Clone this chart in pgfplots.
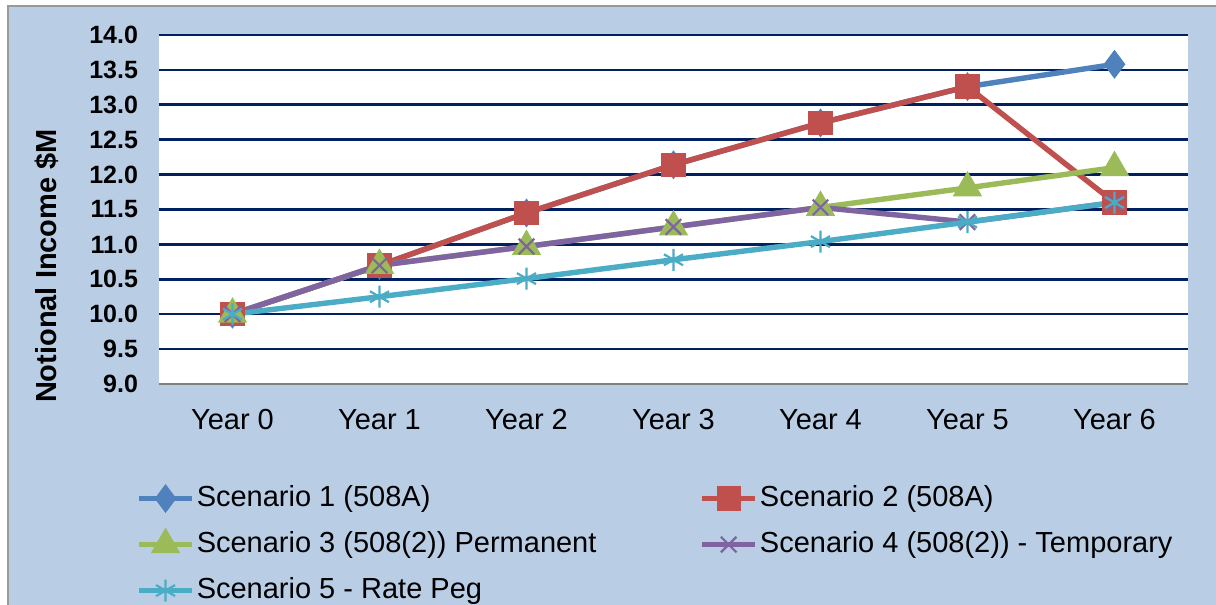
\documentclass[border=0pt]{standalone}
\usepackage{fontspec}
\setmainfont{Liberation Sans}
\usepackage{pgfplots}
\pgfplotsset{compat=1.18}

\definecolor{bgblue}{RGB}{185,205,229}
\definecolor{gridnavy}{RGB}{0,32,96}
\definecolor{sone}{RGB}{79,129,189}
\definecolor{stwo}{RGB}{192,80,77}
\definecolor{sthree}{RGB}{155,187,89}
\definecolor{sfour}{RGB}{128,100,162}
\definecolor{sfive}{RGB}{75,172,198}

\begin{document}
\begin{tikzpicture}
\useasboundingbox (0,0) rectangle (608pt,302.5pt);
% chart area
\fill[bgblue] (4pt,0) rectangle (608pt,299.5pt);
\draw[gray!80, line width=0.8pt] (4pt,0) -- (4pt,299.5pt) -- (608pt,299.5pt);

\begin{axis}[
    at={(79.5pt,110.5pt)}, anchor=south west,
    scale only axis,
    width=514.5pt, height=174.5pt,
    xmin=-0.5, xmax=6.5,
    ymin=9, ymax=14,
    xtick={0,1,2,3,4,5,6},
    xticklabels={Year 0,Year 1,Year 2,Year 3,Year 4,Year 5,Year 6},
    ytick={9,9.5,...,14},
    /pgf/number format/.cd, fixed, fixed zerofill, precision=1, assume math mode=true,
    /pgfplots/.cd,
    yticklabel style={font=\bfseries\fontsize{12.5}{14}\selectfont, xshift=-7pt},
    xticklabel style={font=\fontsize{14.5}{16}\selectfont, yshift=-9pt},
    ylabel={Notional Income \$M},
    ylabel style={font=\bfseries\fontsize{14.5}{16}\selectfont,
        at={(axis description cs:-0.109,0.338)}, anchor=center},
    axis line style={draw=none},
    major tick length=0pt,
    ymajorgrids,
    grid style={gridnavy, line width=1.3pt},
    axis background/.style={fill=white},
    clip=false,
    every axis plot/.append style={line width=2.7pt},
    legend columns=2,
    legend cell align=left,
    legend image code/.code={
        \draw[mark repeat=2, mark phase=2]
            plot coordinates {(0pt,0pt) (13.25pt,0pt) (26.5pt,0pt)};},
    legend style={draw=none, fill=none, inner sep=0pt, outer sep=0pt,
        at={(axis description cs:-0.022,-0.281)}, anchor=north west,
        font=\fontsize{14.5}{16}\selectfont,
        nodes={inner sep=1pt, text height=11pt, text depth=3.5pt},
        row sep=6.5pt,
        /tikz/every odd column/.append style={column sep=0pt},
        /tikz/every even column/.append style={column sep=50.5pt}},
]
\addplot[sone, mark=diamond*, mark size=5pt, mark options={solid, fill=sone}] coordinates {
    (0,10.00) (1,10.70) (2,11.45) (3,12.14) (4,12.74) (5,13.26) (6,13.58)
};
\addlegendentry{Scenario 1 (508A)}
\addplot[stwo, mark=square*, mark size=4.75pt, mark options={solid, fill=stwo}] coordinates {
    (0,10.00) (1,10.70) (2,11.45) (3,12.14) (4,12.74) (5,13.26) (6,11.60)
};
\addlegendentry{Scenario 2 (508A)}
\addplot[sthree, mark=triangle*, mark size=5.8pt, mark options={solid, fill=sthree}] coordinates {
    (0,10.00) (1,10.70) (2,10.97) (3,11.25) (4,11.53) (5,11.81) (6,12.10)
};
\addlegendentry{Scenario 3 (508(2)) Permanent}
\addplot[sfour, mark=x, mark size=5.5pt, mark options={solid, line width=1.1pt}] coordinates {
    (0,10.00) (1,10.70) (2,10.97) (3,11.25) (4,11.53) (5,11.32) (6,11.60)
};
\addlegendentry{Scenario 4 (508(2)) - Temporary}
\addplot[sfive, mark=asterisk, mark size=5.5pt, mark options={solid, line width=1.1pt}] coordinates {
    (0,10.00) (1,10.25) (2,10.51) (3,10.78) (4,11.04) (5,11.32) (6,11.60)
};
\addlegendentry{Scenario 5 - Rate Peg}
% category axis line
\draw[gray, line width=1.3pt] (rel axis cs:0,0) -- (rel axis cs:1,0);
\end{axis}
\end{tikzpicture}
\end{document}
